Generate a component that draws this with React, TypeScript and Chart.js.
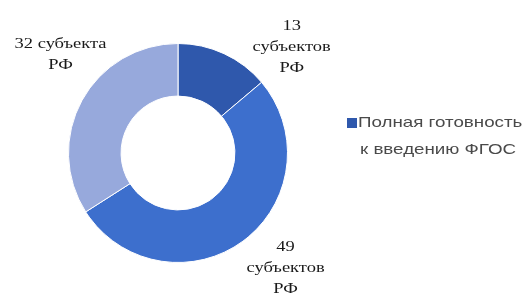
import React, { useEffect, useRef } from "react";
import { Chart, registerables } from "chart.js";

Chart.register(...registerables);

const categories = [
  "Полная готовность к введению ФГОС",
  "Частичная готовность",
  "Низкая готовность",
];
const values = [13, 49, 32];
const dataLabels = [
  ["13", "субъектов", "РФ"],
  ["49", "субъектов", "РФ"],
  ["32 субъекта", "РФ"],
];
const legendLines = ["Полная готовность", "к введению ФГОС"];
const colors = ["#2F58AC", "#3D6FCD", "#97A9DC"];

// label placement: angle (deg, clockwise from top) and distance in outer radii
const labelPlacement = [
  { angle: 47, r: 1.42 },
  { angle: 137, r: 1.44 },
  { angle: 310, r: 1.4 },
];

const labelPlugin = {
  id: "outerLabels",
  afterDatasetsDraw(chart: any) {
    const ctx = chart.ctx;
    const meta = chart.getDatasetMeta(0);
    ctx.save();
    ctx.fillStyle = "#1a1a1a";
    ctx.font = "14px 'Liberation Serif', serif";
    ctx.textAlign = "center";
    ctx.textBaseline = "middle";
    meta.data.forEach((arc: any, i: number) => {
      const p = labelPlacement[i];
      const a = (p.angle * Math.PI) / 180;
      const cx = arc.x + Math.sin(a) * arc.outerRadius * p.r;
      const cy = arc.y - Math.cos(a) * arc.outerRadius * p.r;
      const lines = dataLabels[i];
      const lh = 21;
      const start = cy - ((lines.length - 1) * lh) / 2;
      lines.forEach((t, j) => {
        ctx.save();
        ctx.translate(cx, start + j * lh);
        ctx.scale(1.32, 1);
        ctx.fillText(t, 0, 0);
        ctx.restore();
      });
    });
    ctx.restore();
  },
};

const legendPlugin = {
  id: "customLegend",
  afterDraw(chart: any) {
    const ctx = chart.ctx;
    const area = chart.chartArea;
    const x0 = area.right + 59;
    const y0 = area.top + 80;
    ctx.save();
    ctx.fillStyle = colors[0];
    ctx.fillRect(x0, y0 - 5, 10, 10);
    ctx.fillStyle = "#4a4a4a";
    ctx.font = "15px 'Liberation Sans', Arial, sans-serif";
    ctx.textAlign = "left";
    ctx.textBaseline = "middle";
    legendLines.forEach((t, j) => {
      ctx.save();
      ctx.translate(x0 + 11 + (j === 1 ? 2 : 0), y0 + j * 27);
      ctx.scale(1.25, 1);
      ctx.fillText(t, 0, 0);
      ctx.restore();
    });
    ctx.restore();
  },
};

export default function App() {
  const ref = useRef<HTMLCanvasElement | null>(null);
  useEffect(() => {
    document.body.style.margin = "0";
    if (!ref.current) return;
    const chart = new Chart(ref.current, {
      type: "doughnut",
      data: {
        labels: categories,
        datasets: [
          {
            data: values,
            backgroundColor: colors,
            borderColor: "#ffffff",
            borderWidth: 1,
          },
        ],
      },
      options: {
        animation: false,
        responsive: false,
        cutout: "52%",
        layout: { padding: { left: 68, right: 242, top: 43, bottom: 30 } },
        plugins: {
          legend: { display: false },
          tooltip: { enabled: false },
        },
      },
      plugins: [labelPlugin, legendPlugin],
    });
    return () => chart.destroy();
  }, []);
  return (
    <div style={{ width: 530, height: 293, background: "#fff" }}>
      <canvas ref={ref} width={530} height={293} />
    </div>
  );
}
